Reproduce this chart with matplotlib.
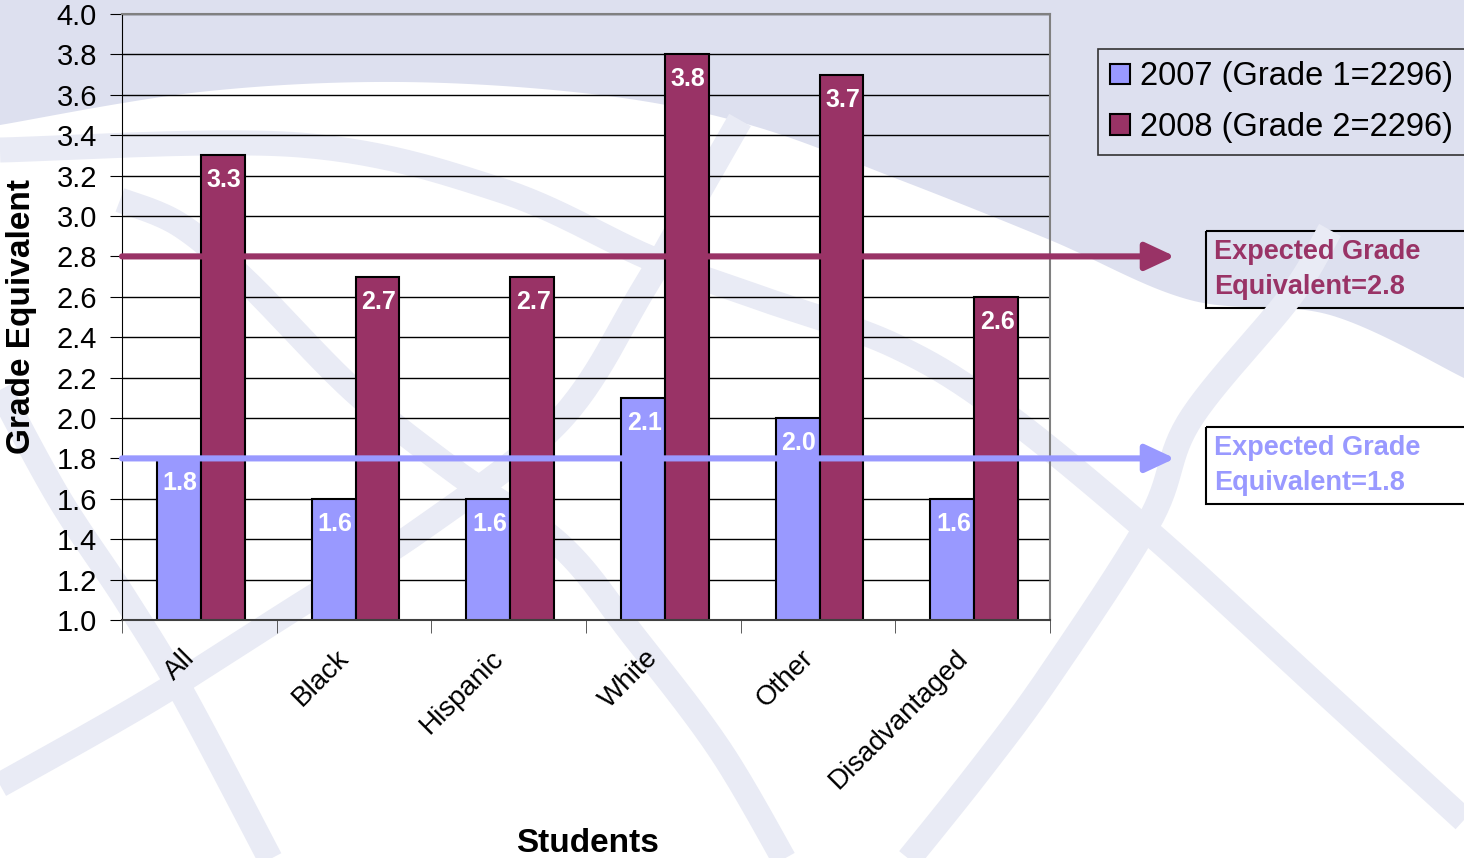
import numpy as np
import matplotlib
matplotlib.use("Agg")
import matplotlib.pyplot as plt
from matplotlib.patches import Rectangle
from matplotlib.transforms import ScaledTranslation

plt.rcParams['font.family'] = ['Liberation Sans', 'DejaVu Sans']

# data
groups = ["All", "Black", "Hispanic", "White", "Other", "Disadvantaged"]
grade_2007 = [1.8, 1.6, 1.6, 2.1, 2.0, 1.6]
grade_2008 = [3.3, 2.7, 2.7, 3.8, 3.7, 2.6]
labels = ["2007 (Grade 1=2296)", "2008 (Grade 2=2296)"]
expected_2008 = 2.8
expected_2007 = 1.8

c07 = '#9999ff'
c08 = '#993366'
lav = '#dde0ef'
band = '#e9ebf5'


def smooth(pts, n=30):
    # catmull-rom through the given points
    pts = np.asarray(pts, float)
    p = np.vstack([pts[0], pts, pts[-1]])
    t = np.linspace(0, 1, n)[:, None]
    out = []
    for i in range(1, len(p) - 2):
        p0, p1, p2, p3 = p[i - 1], p[i], p[i + 1], p[i + 2]
        out.append(0.5 * (2 * p1 + (-p0 + p2) * t + (2 * p0 - 5 * p1 + 4 * p2 - p3) * t ** 2
                          + (-p0 + 3 * p1 - 3 * p2 + p3) * t ** 3))
    return np.vstack(out)


fig = plt.figure(figsize=(14.64, 8.58), dpi=100)
fig.patch.set_facecolor('white')

# decorative background (pixel coords)
bg = fig.add_axes([0, 0, 1, 1])
bg.set_xlim(0, 1464)
bg.set_ylim(858, 0)
bg.axis('off')
bg.set_zorder(0)

top = smooth([(0, 125), (200, 92), (400, 82), (600, 95), (750, 125), (900, 180),
              (1050, 240), (1190, 300), (1330, 315), (1464, 378)])
poly = np.vstack([top, [(1464, 0), (0, 0)]])
bg.fill(poly[:, 0], poly[:, 1], color=lav, lw=0)

bands = [
    [(0, 150), (300, 145), (500, 190), (650, 258), (760, 298), (893, 345), (1000, 410),
     (1150, 533), (1300, 670), (1464, 820)],
    [(1330, 230), (1290, 297), (1190, 420), (1150, 520), (1050, 675), (980, 770), (900, 870)],
    [(740, 120), (700, 190), (643, 290), (560, 420), (420, 530), (300, 605), (150, 700), (0, 785)],
    [(120, 200), (180, 225), (247, 282), (353, 390), (453, 470), (560, 545), (633, 635),
     (720, 750), (790, 870)],
    [(0, 390), (60, 500), (126, 600), (184, 696), (276, 870)],
]
for b in bands:
    s = smooth(b)
    bg.plot(s[:, 0], s[:, 1], color=band, lw=18, solid_capstyle='butt')

# expected-grade boxes
for y0, txt, col in [(231, "Equivalent=2.8", c08), (427, "Equivalent=1.8", c07)]:
    bg.add_patch(Rectangle((1206, y0), 270, 77, fill=False, ec='black', lw=1.5))
    bg.text(1214, y0 + 21, "Expected Grade", color=col, fontsize=19.5, fontweight='bold',
            va='center', ha='left')
    bg.text(1214, y0 + 56, txt, color=col, fontsize=19.5, fontweight='bold',
            va='center', ha='left')

# main chart
ax = fig.add_axes([122 / 1464, 1 - 620 / 858, 928 / 1464, 606 / 858])
ax.set_zorder(1)
ax.patch.set_visible(False)

x = np.arange(len(groups))
w = 0.284
b1 = ax.bar(x + 0.01 - w / 2, grade_2007, w, color=c07, edgecolor='black', lw=1.5,
            label=labels[0], zorder=2)
b2 = ax.bar(x + 0.01 + w / 2, grade_2008, w, color=c08, edgecolor='black', lw=1.5,
            label=labels[1], zorder=2)

for bars, vals in [(b1, grade_2007), (b2, grade_2008)]:
    for r, v in zip(bars, vals):
        ax.annotate(f"{v:.1f}", xy=(r.get_x() + r.get_width() / 2, v), xytext=(1, -18),
                    textcoords='offset points', ha='center', va='center',
                    color='white', fontsize=18, fontweight='bold', zorder=4)

ax.set_xlim(-0.5, len(groups) - 0.5)
ax.set_ylim(1.0, 4.0)
ax.set_yticks(np.arange(1.0, 4.01, 0.2))
ax.set_yticklabels([f"{v:.1f}" for v in np.arange(1.0, 4.01, 0.2)])
ax.grid(axis='y', color='black', lw=1)
ax.set_axisbelow(True)

ax.set_xticks(x)
ax.set_xticklabels(groups, rotation=45, ha='right', va='top', rotation_mode='anchor')
ax.set_xticks(np.arange(-0.5, len(groups), 1), minor=True)
ax.tick_params(axis='x', which='major', length=0, pad=18, labelsize=20)
ax.tick_params(axis='x', which='minor', length=9, direction='out', color='#404040')
ax.tick_params(axis='y', length=9, direction='out', pad=9, labelsize=21)
off = ScaledTranslation(-18 / 100, 0, fig.dpi_scale_trans)
for lbl in ax.get_xticklabels():
    lbl.set_transform(lbl.get_transform() + off)

ax.spines['left'].set_color('black')
ax.spines['bottom'].set_color('#404040')
ax.spines['bottom'].set_linewidth(1.5)
for s in ['top', 'right']:
    ax.spines[s].set_color('#808080')
    ax.spines[s].set_linewidth(1.5)

# expected-grade arrows
tr = ax.get_yaxis_transform()
for yv, col in [(expected_2008, c08), (expected_2007, c07)]:
    ax.annotate('', xy=((1175 - 122) / 928, yv), xytext=(0, yv), xycoords=tr, textcoords=tr,
                arrowprops=dict(arrowstyle='-|>,head_length=0.9,head_width=0.42', color=col,
                                lw=4.4, mutation_scale=20, shrinkA=0, shrinkB=0),
                annotation_clip=False, zorder=3)

fig.text(22 / 1464, 1 - 317 / 858, "Grade Equivalent", rotation=90, fontsize=24,
         fontweight='bold', ha='center', va='center')
fig.text(588 / 1464, 1 - 843 / 858, "Students", fontsize=24, fontweight='bold',
         ha='center', va='center')

leg = ax.legend(loc='upper left', bbox_to_anchor=(1098 / 1464, 1 - 49 / 858),
                bbox_transform=fig.transFigure, fontsize=23.5, frameon=True, fancybox=False,
                edgecolor='#333333', facecolor=lav, framealpha=1, handlelength=0.6,
                handleheight=0.6, handletextpad=0.3, labelspacing=0.6, borderpad=0.38,
                borderaxespad=0)
leg.get_frame().set_linewidth(1.2)

fig.savefig("out.png", dpi=100)
